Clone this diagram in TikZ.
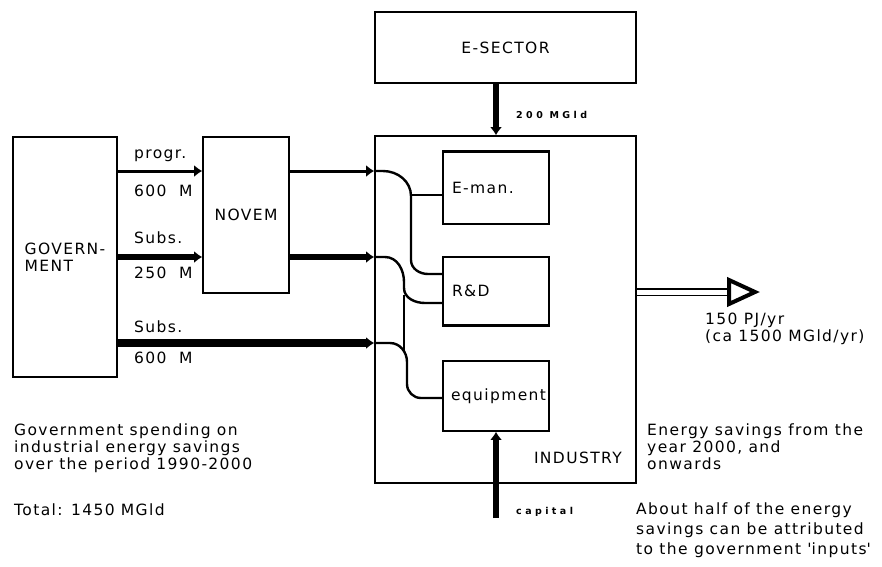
\documentclass[tikz,border=0pt]{standalone}
\usepackage{fontspec}
\setmainfont{DejaVu Sans}[LetterSpace=9]
\newfontfamily\smallfont{DejaVu Sans Bold}[LetterSpace=36]
\usetikzlibrary{arrows.meta,positioning,calc}

\begin{document}
\begin{tikzpicture}[x=1pt, y=-1pt,
  box/.style={draw, line width=1.6pt, inner sep=0pt},
  lbl/.style={font=\fontsize{15.5}{17}\selectfont, inner sep=0pt},
  tiny/.style={font=\smallfont\fontsize{9.5}{10}\selectfont, inner sep=0pt},
  feed/.style={line width=#1, -{Latex[length=8pt,width=12pt]}},
  inner/.style={line width=2.4pt, line join=round}]
  \useasboundingbox (0,0) rectangle (882,566);

  % Boxes
  \node[box, minimum width=261pt, minimum height=71pt, lbl] (esector) at (505.5,47.5) {E-SECTOR};
  \node[box, minimum width=104pt, minimum height=240pt, lbl, align=left] (gov) at (65,257) {GOVERN-\\MENT};
  \node[box, minimum width=86pt, minimum height=156pt, lbl] (novem) at (246,215) {NOVEM};
  \node[box, minimum width=261pt, minimum height=347pt] (industry) at (505.5,309.5) {};
  \node[lbl, anchor=east] (indlabel) at (622,458) {INDUSTRY};
  \node[box, minimum width=106pt, minimum height=72pt, lbl, text width=88pt, align=left] (eman) at (496,188) {E-man.};
  \node[box, minimum width=106pt, minimum height=68pt, lbl, text width=88pt, align=left] (rnd) at (496,291) {R\&D};
  \node[box, minimum width=106pt, minimum height=70pt, lbl, text width=90pt, align=left] (equip) at (496,396) {equipment};
  \draw[line width=3pt] (eman.north west) -- (eman.north east);
  \draw[line width=3pt] (rnd.south west) -- (rnd.south east);

  % Money flows
  \draw[feed=6.5pt] (esector.south -| eman) -- (industry.north -| eman);
  \node[tiny, anchor=west] (esval) at (516,115) {200 MGld};
  \draw[feed=3pt] (gov.east |- 0,171) -- (novem.west |- 0,171);
  \draw[feed=6pt] (gov.east |- 0,257) -- (novem.west |- 0,257);
  \draw[feed=7.5pt] (gov.east |- 0,343) -- (industry.west |- 0,343);
  \draw[feed=3pt] (novem.east |- 0,171) -- (industry.west |- 0,171);
  \draw[feed=6pt] (novem.east |- 0,257) -- (industry.west |- 0,257);
  \node[lbl, anchor=west] (l1a) at (134,156) {progr.};
  \node[lbl, anchor=west] (l1b) at (134,191) {600\ \ M};
  \node[lbl, anchor=west] (l2a) at (134,238) {Subs.};
  \node[lbl, anchor=west] (l2b) at (134,273) {250\ \ M};
  \node[lbl, anchor=west] (l3a) at (134,327) {Subs.};
  \node[lbl, anchor=west] (l3b) at (134,358) {600\ \ M};

  % Split inside industry
  \draw[inner] (industry.west |- 0,171) -- (383,171) to[out=0,in=90] (411,196) -- (411,260)
    to[out=-90,in=180] (428,274) -- (rnd.west |- 0,274);
  \draw[inner] (411,195) -- (eman.west |- 0,195);
  \draw[inner] (industry.west |- 0,257) -- (385,257) to[out=0,in=90] (404,282) -- (404,288)
    to[out=-90,in=180] (425,303) -- (rnd.west |- 0,303);
  \draw[line width=1.6pt] (404,295) -- (404,350);
  \draw[inner] (industry.west |- 0,343) -- (390,343) to[out=0,in=90] (407,362) -- (407,384)
    to[out=-90,in=180] (421,398) -- (equip.west |- 0,398);

  % Capital
  \coordinate (cap) at (496,518);
  \draw[feed=6.5pt] (cap) -- (equip.south -| cap);
  \node[tiny, anchor=west] (caplabel) at (516,512) {capital};

  % Savings out
  \coordinate (out) at (757,292);
  \draw[double, double distance=5pt, line width=1.5pt] (industry.east |- out) -- ($(out)+(-29,0)$);
  \draw[line width=4pt, fill=white, line join=miter] ($(out)+(-28,-12)$) -- ($(out)+(-2,0)$) -- ($(out)+(-28,12)$) -- cycle;
  \node[lbl, anchor=west, align=left] (outlabel) at (705,329) {150 PJ/yr\\(ca 1500 MGld/yr)};

  % Notes
  \node[lbl, anchor=north west, align=left] (govnote) at (14,424) {Government spending on\\industrial energy savings\\over the period 1990-2000};
  \node[lbl, anchor=west] (total) at (14,510) {Total: 1450 MGld};
  \node[lbl, anchor=north west, align=left] (savnote) at (647,424) {Energy savings from the\\year 2000, and\\onwards};
  \node[lbl, anchor=north west, align=left, font=\fontsize{15.5}{20}\selectfont] (halfnote) at (636,503) {About half of the energy\\savings can be attributed\\to the government \textquotesingle inputs\textquotesingle};
\end{tikzpicture}
\end{document}
